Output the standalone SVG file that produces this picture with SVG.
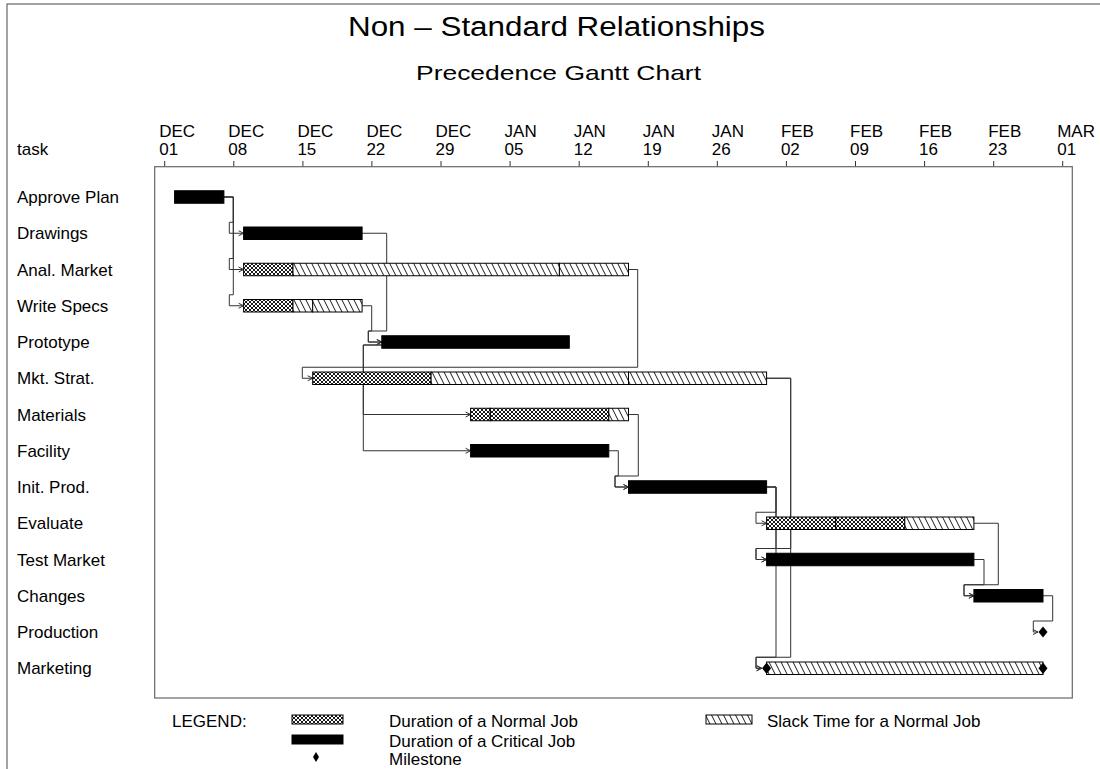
<svg xmlns="http://www.w3.org/2000/svg" width="1100" height="769" viewBox="0 0 1100 769">
  <style>
    text { font-family: "Liberation Sans", Arial, sans-serif; fill: #000; }
    .title { font-size: 27px; }
    .sub { font-size: 21px; }
    .lbl { font-size: 17px; }
    .frame { fill: none; stroke: #666; stroke-width: 1.2; }
    .tick { stroke: #333; stroke-width: 1; }
    .crit { fill: #000; stroke: #000; stroke-width: 1; }
    .norm { fill: url(#xhatch); stroke: #000; stroke-width: 1; }
    .slack { fill: url(#slack); stroke: #000; stroke-width: 1; }
    .conn { fill: none; stroke: #333; stroke-width: 1; }
    .arr { marker-end: url(#arrow); }
    .ms { fill: #000; }
  </style>
  <defs>
    <pattern id="xhatch" patternUnits="userSpaceOnUse" width="4" height="4">
      <rect width="4" height="4" fill="#fff"/>
      <path d="M-1,-1 L5,5 M5,-1 L-1,5" stroke="#000" stroke-width="0.9"/>
    </pattern>
    <pattern id="slack" patternUnits="userSpaceOnUse" width="6" height="12">
      <rect width="6" height="12" fill="#fff"/>
      <path d="M-1,-2 L7,14 M-7,-2 L1,14 M5,-2 L13,14" stroke="#000" stroke-width="0.9"/>
    </pattern>
    <marker id="arrow" markerUnits="userSpaceOnUse" markerWidth="8" markerHeight="8" refX="6" refY="4" orient="auto">
      <path d="M1,1.5 L6,4 L1,6.5" fill="none" stroke="#333" stroke-width="1"/>
    </marker>
  </defs>

  <rect width="1100" height="769" fill="#fff"/>
  <!-- page border -->
  <rect x="7" y="4" width="1100" height="780" class="frame"/>

  <!-- titles -->
  <text class="title" x="348" y="36" textLength="417" lengthAdjust="spacingAndGlyphs">Non – Standard Relationships</text>
  <text class="sub" x="416" y="80" textLength="285" lengthAdjust="spacingAndGlyphs">Precedence Gantt Chart</text>

  <!-- time axis -->
  <g id="axis">
    <text class="lbl" x="17" y="155">task</text>
    <g class="lbl">
      <text x="159.2" y="137">DEC</text><text x="159.2" y="155">01</text>
      <text x="228.3" y="137">DEC</text><text x="228.3" y="155">08</text>
      <text x="297.4" y="137">DEC</text><text x="297.4" y="155">15</text>
      <text x="366.4" y="137">DEC</text><text x="366.4" y="155">22</text>
      <text x="435.5" y="137">DEC</text><text x="435.5" y="155">29</text>
      <text x="504.6" y="137">JAN</text><text x="504.6" y="155">05</text>
      <text x="573.7" y="137">JAN</text><text x="573.7" y="155">12</text>
      <text x="642.8" y="137">JAN</text><text x="642.8" y="155">19</text>
      <text x="711.8" y="137">JAN</text><text x="711.8" y="155">26</text>
      <text x="780.9" y="137">FEB</text><text x="780.9" y="155">02</text>
      <text x="850" y="137">FEB</text><text x="850" y="155">09</text>
      <text x="919.1" y="137">FEB</text><text x="919.1" y="155">16</text>
      <text x="988.2" y="137">FEB</text><text x="988.2" y="155">23</text>
      <text x="1057.2" y="137">MAR</text><text x="1057.2" y="155">01</text>
    </g>
    <path class="tick" d="M164.7,161V166.7 M233.8,161V166.7 M302.9,161V166.7 M371.9,161V166.7 M441,161V166.7 M510.1,161V166.7 M579.2,161V166.7 M648.3,161V166.7 M717.3,161V166.7 M786.4,161V166.7 M855.5,161V166.7 M924.6,161V166.7 M993.7,161V166.7 M1062.7,161V166.7"/>
  </g>

  <!-- chart area -->
  <rect x="154.7" y="166.7" width="917.6" height="531.3" class="frame"/>

  <!-- task names -->
  <g id="task-labels" class="lbl">
    <text x="17" y="203">Approve Plan</text>
    <text x="17" y="239.3">Drawings</text>
    <text x="17" y="275.5">Anal. Market</text>
    <text x="17" y="311.8">Write Specs</text>
    <text x="17" y="348">Prototype</text>
    <text x="17" y="384.3">Mkt. Strat.</text>
    <text x="17" y="420.5">Materials</text>
    <text x="17" y="456.8">Facility</text>
    <text x="17" y="493">Init. Prod.</text>
    <text x="17" y="529.3">Evaluate</text>
    <text x="17" y="565.5">Test Market</text>
    <text x="17" y="601.8">Changes</text>
    <text x="17" y="638">Production</text>
    <text x="17" y="674.3">Marketing</text>
  </g>

  <!-- precedence connectors -->
  <g id="connectors" class="conn">
    <path class="arr" d="M223.9,197 H233.3 V222.25 H229.3 V233.25 H243.6"/>
    <path class="arr" d="M223.9,197 H233.3 V258.5 H229.3 V269.5 H243.6"/>
    <path class="arr" d="M223.9,197 H233.3 V294.75 H229.3 V305.75 H243.6"/>
    <path class="arr" d="M362.1,233.25 H386.7 V331 H368.3 V342 H381.8"/>
    <path class="arr" d="M362.1,305.75 H371.7 V331 H368.3 V342 H381.8"/>
    <path class="arr" d="M628.5,269.5 H637.7 V367.25 H302.3 V378.25 H312.7"/>
    <path class="arr" d="M381.8,345 H363.3 V414.5 H470.6"/>
    <path class="arr" d="M381.8,345 H363.3 V450.75 H470.6"/>
    <path class="arr" d="M628.5,414.5 H638.3 V476 H615 V487 H628.5"/>
    <path class="arr" d="M608.8,450.75 H618.3 V476 H615 V487 H628.5"/>
    <path class="arr" d="M766.6,378.25 H790.7 V548.5 H756 V559.5 H766.6"/>
    <path class="arr" d="M766.6,378.25 H790.7 V657.25 H756 V668.25 H761.6"/>
    <path class="arr" d="M766.6,487 H776 V512.25 H756 V523.25 H766.6"/>
    <path class="arr" d="M766.6,487 H776 V548.5 H756 V559.5 H766.6"/>
    <path class="arr" d="M766.6,487 H776 V657.25 H756 V668.25 H761.6"/>
    <path class="arr" d="M973.9,523.25 H998.3 V584.75 H964 V595.75 H973.9"/>
    <path class="arr" d="M973.9,559.5 H984 V584.75 H964 V595.75 H973.9"/>
    <path class="arr" d="M1043,595.75 H1052.7 V621 H1033.3 V632 H1038"/>
  </g>

  <!-- task bars -->
  <g id="approve-plan"><rect class="crit" x="174.6" y="190.75" width="49.3" height="12.5"/></g>
  <g id="drawings"><rect class="crit" x="243.6" y="227" width="118.5" height="12.5"/></g>
  <g id="anal-market">
    <rect class="norm" x="243.6" y="263.25" width="49.4" height="12.5"/>
    <rect class="slack" x="293" y="263.25" width="266.4" height="12.5"/>
    <rect class="slack" x="559.4" y="263.25" width="69.1" height="12.5"/>
  </g>
  <g id="write-specs">
    <rect class="norm" x="243.6" y="299.5" width="49.4" height="12.5"/>
    <rect class="slack" x="293" y="299.5" width="19.7" height="12.5"/>
    <rect class="slack" x="312.7" y="299.5" width="49.4" height="12.5"/>
  </g>
  <g id="prototype"><rect class="crit" x="381.8" y="335.75" width="187.5" height="12.5"/></g>
  <g id="mkt-strat">
    <rect class="norm" x="312.7" y="372" width="118.4" height="12.5"/>
    <rect class="slack" x="431.1" y="372" width="197.4" height="12.5"/>
    <rect class="slack" x="628.5" y="372" width="138.1" height="12.5"/>
  </g>
  <g id="materials">
    <rect class="norm" x="470.6" y="408.25" width="19.7" height="12.5"/>
    <rect class="norm" x="490.3" y="408.25" width="118.5" height="12.5"/>
    <rect class="slack" x="608.8" y="408.25" width="19.7" height="12.5"/>
  </g>
  <g id="facility"><rect class="crit" x="470.6" y="444.5" width="138.2" height="12.5"/></g>
  <g id="init-prod"><rect class="crit" x="628.5" y="480.75" width="138.1" height="12.5"/></g>
  <g id="evaluate">
    <rect class="norm" x="766.6" y="517" width="69.1" height="12.5"/>
    <rect class="norm" x="835.7" y="517" width="69.1" height="12.5"/>
    <rect class="slack" x="904.8" y="517" width="69.1" height="12.5"/>
  </g>
  <g id="test-market"><rect class="crit" x="766.6" y="553.25" width="207.3" height="12.5"/></g>
  <g id="changes"><rect class="crit" x="973.9" y="589.5" width="69.1" height="12.5"/></g>
  <g id="production"><path class="ms" d="M1043,626.5 L1047.5,632 L1043,637.5 L1038.5,632 Z"/></g>
  <g id="marketing">
    <rect class="slack" x="766.6" y="662" width="276.4" height="12.5"/>
    <path class="ms" d="M766.6,662.5 L771.1,668.25 L766.6,674 L762.1,668.25 Z"/>
    <path class="ms" d="M1043,662.5 L1047.5,668.25 L1043,674 L1038.5,668.25 Z"/>
  </g>

  <!-- legend -->
  <g id="legend" class="lbl">
    <text x="172" y="727">LEGEND:</text>
    <rect class="norm" x="292" y="715" width="51" height="9"/>
    <text x="389" y="727">Duration of a Normal Job</text>
    <rect class="slack" x="706" y="715" width="46" height="9"/>
    <text x="767" y="727">Slack Time for a Normal Job</text>
    <rect class="crit" x="292" y="735" width="51" height="9"/>
    <text x="389" y="747">Duration of a Critical Job</text>
    <path class="ms" d="M316,752 L319,757 L316,762 L313,757 Z"/>
    <text x="389" y="765">Milestone</text>
  </g>
</svg>
